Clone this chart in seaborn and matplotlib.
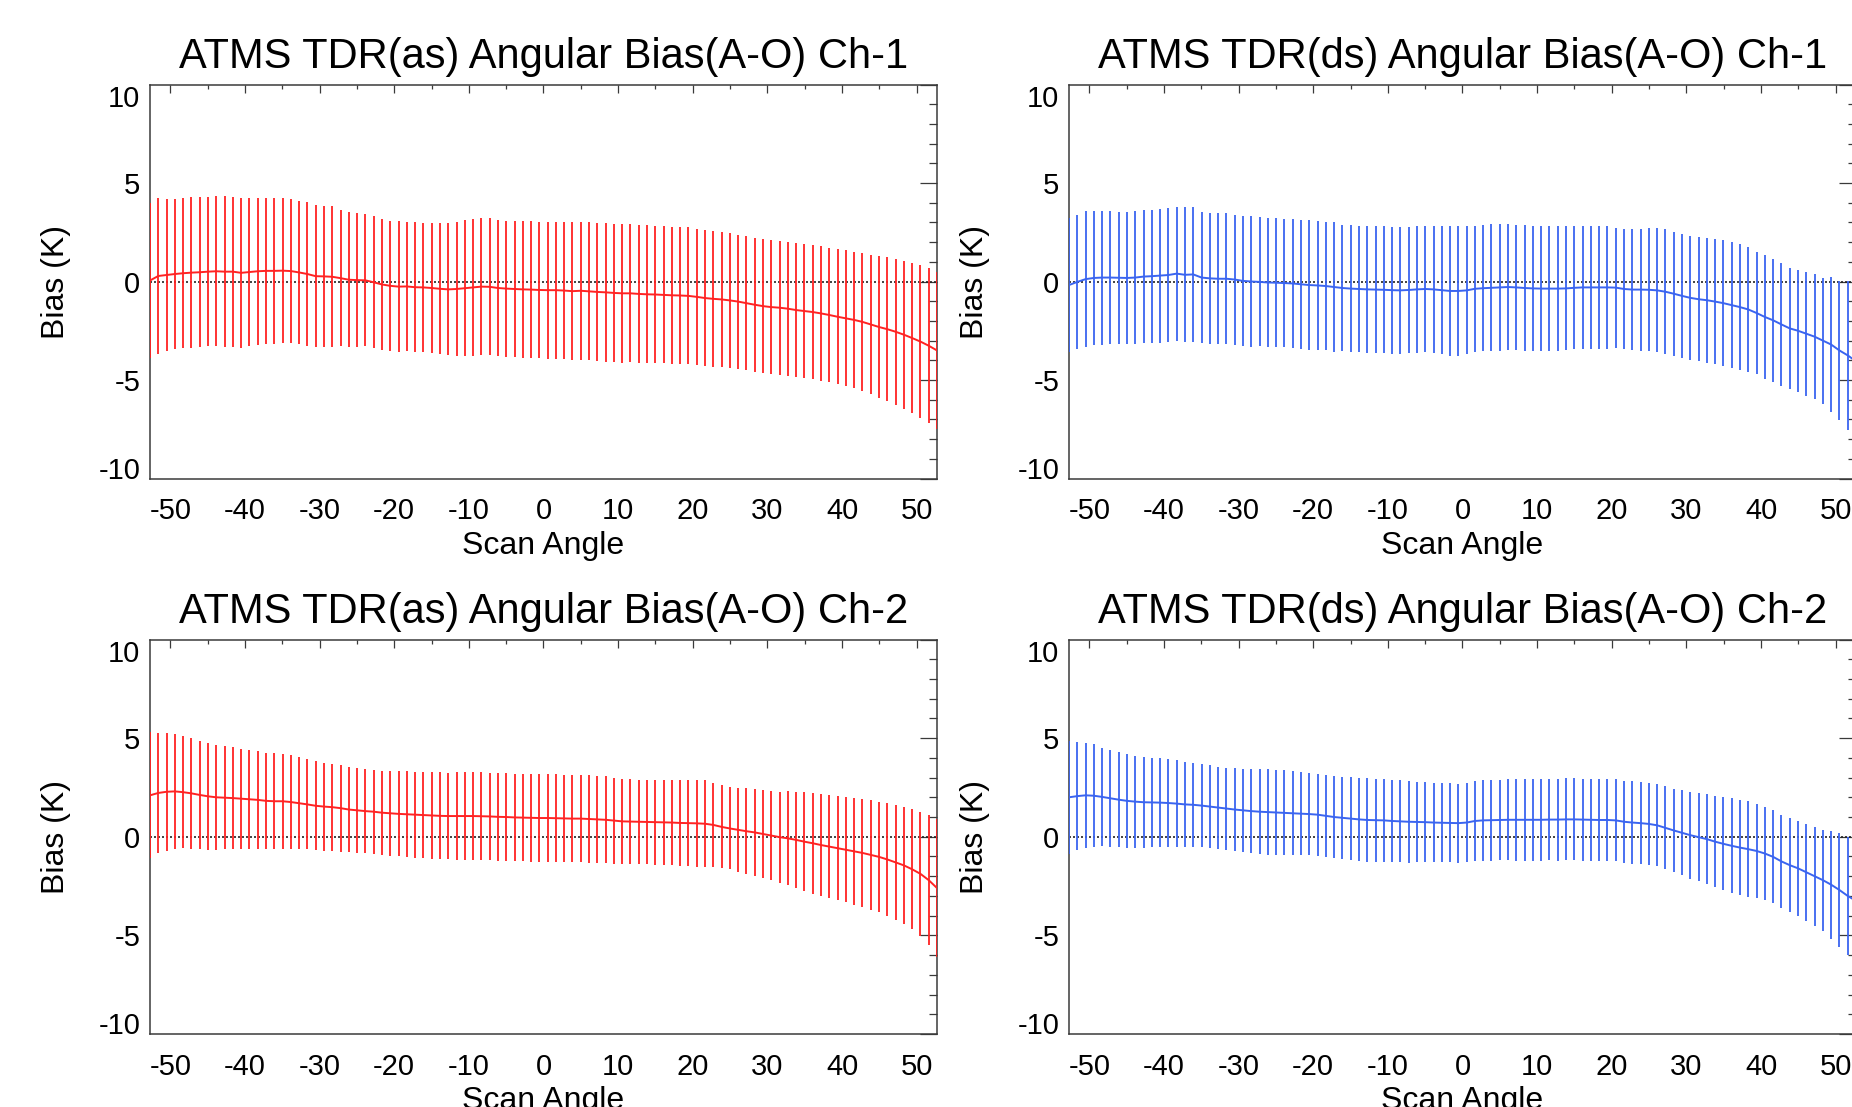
import numpy as np
import seaborn as sns
import matplotlib
matplotlib.use("Agg")
import matplotlib.pyplot as plt
from matplotlib.ticker import MultipleLocator

# ATMS beam positions (scan angle, deg)
scan_angle = [
    -52.725, -51.615, -50.505, -49.395, -48.285, -47.175, -46.065, -44.955,
    -43.845, -42.735, -41.625, -40.515, -39.405, -38.295, -37.185, -36.075,
    -34.965, -33.855, -32.745, -31.635, -30.525, -29.415, -28.305, -27.195,
    -26.085, -24.975, -23.865, -22.755, -21.645, -20.535, -19.425, -18.315,
    -17.205, -16.095, -14.985, -13.875, -12.765, -11.655, -10.545, -9.435,
    -8.325, -7.215, -6.105, -4.995, -3.885, -2.775, -1.665, -0.555,
    0.555, 1.665, 2.775, 3.885, 4.995, 6.105, 7.215, 8.325,
    9.435, 10.545, 11.655, 12.765, 13.875, 14.985, 16.095, 17.205,
    18.315, 19.425, 20.535, 21.645, 22.755, 23.865, 24.975, 26.085,
    27.195, 28.305, 29.415, 30.525, 31.635, 32.745, 33.855, 34.965,
    36.075, 37.185, 38.295, 39.405, 40.515, 41.625, 42.735, 43.845,
    44.955, 46.065, 47.175, 48.285, 49.395, 50.505, 51.615, 52.725,
]

# ascending, channel 1
as_ch1_mean = [
    0.05, 0.28, 0.33, 0.38, 0.42, 0.45, 0.47, 0.50,
    0.52, 0.50, 0.50, 0.44, 0.48, 0.52, 0.54, 0.54,
    0.55, 0.53, 0.46, 0.38, 0.27, 0.26, 0.24, 0.17,
    0.09, 0.07, 0.06, -0.04, -0.15, -0.22, -0.26, -0.25,
    -0.29, -0.30, -0.33, -0.37, -0.40, -0.38, -0.34, -0.30,
    -0.26, -0.27, -0.33, -0.36, -0.38, -0.40, -0.41, -0.43,
    -0.44, -0.44, -0.46, -0.49, -0.47, -0.50, -0.53, -0.55,
    -0.58, -0.60, -0.60, -0.63, -0.65, -0.66, -0.68, -0.70,
    -0.71, -0.73, -0.78, -0.84, -0.88, -0.91, -0.96, -1.02,
    -1.10, -1.18, -1.25, -1.30, -1.33, -1.38, -1.45, -1.50,
    -1.55, -1.62, -1.70, -1.79, -1.87, -1.95, -2.05, -2.18,
    -2.31, -2.42, -2.55, -2.70, -2.87, -3.05, -3.26, -3.50,
]
as_ch1_std = [
    3.95, 3.95, 3.86, 3.80, 3.80, 3.82, 3.80, 3.79,
    3.80, 3.83, 3.80, 3.80, 3.74, 3.73, 3.71, 3.70,
    3.67, 3.65, 3.63, 3.65, 3.62, 3.59, 3.57, 3.46,
    3.44, 3.40, 3.35, 3.36, 3.33, 3.31, 3.31, 3.27,
    3.29, 3.29, 3.30, 3.32, 3.35, 3.40, 3.45, 3.46,
    3.47, 3.48, 3.46, 3.45, 3.46, 3.47, 3.46, 3.46,
    3.47, 3.48, 3.48, 3.50, 3.50, 3.50, 3.52, 3.52,
    3.52, 3.52, 3.50, 3.50, 3.50, 3.50, 3.48, 3.48,
    3.48, 3.48, 3.45, 3.45, 3.45, 3.42, 3.42, 3.40,
    3.40, 3.40, 3.39, 3.40, 3.40, 3.40, 3.40, 3.40,
    3.40, 3.42, 3.42, 3.43, 3.45, 3.47, 3.50, 3.55,
    3.60, 3.65, 3.70, 3.75, 3.82, 3.88, 3.93, 3.97,
]

# descending, channel 1
ds_ch1_mean = [
    -0.18, -0.02, 0.12, 0.18, 0.20, 0.20, 0.19, 0.18,
    0.20, 0.25, 0.27, 0.30, 0.33, 0.40, 0.34, 0.36,
    0.20, 0.16, 0.14, 0.14, 0.10, 0.03, 0.00, -0.02,
    -0.05, -0.06, -0.08, -0.10, -0.14, -0.18, -0.20, -0.23,
    -0.28, -0.33, -0.36, -0.38, -0.40, -0.41, -0.42, -0.44,
    -0.45, -0.43, -0.40, -0.38, -0.40, -0.44, -0.48, -0.48,
    -0.45, -0.37, -0.34, -0.32, -0.30, -0.28, -0.30, -0.33,
    -0.35, -0.36, -0.36, -0.36, -0.35, -0.32, -0.30, -0.30,
    -0.30, -0.30, -0.31, -0.38, -0.41, -0.41, -0.42, -0.45,
    -0.52, -0.62, -0.73, -0.83, -0.90, -0.95, -1.02, -1.10,
    -1.20, -1.30, -1.42, -1.60, -1.80, -1.97, -2.18, -2.38,
    -2.50, -2.65, -2.80, -3.00, -3.20, -3.50, -3.75, -4.05,
]
ds_ch1_std = [
    3.40, 3.42, 3.44, 3.42, 3.40, 3.38, 3.36, 3.35,
    3.36, 3.37, 3.38, 3.40, 3.42, 3.40, 3.43, 3.42,
    3.33, 3.33, 3.33, 3.32, 3.30, 3.30, 3.30, 3.27,
    3.26, 3.26, 3.25, 3.26, 3.28, 3.28, 3.27, 3.27,
    3.29, 3.21, 3.21, 3.22, 3.22, 3.22, 3.22, 3.22,
    3.22, 3.22, 3.22, 3.20, 3.22, 3.25, 3.30, 3.30,
    3.25, 3.20, 3.20, 3.22, 3.22, 3.20, 3.18, 3.18,
    3.18, 3.18, 3.17, 3.17, 3.15, 3.13, 3.12, 3.12,
    3.13, 3.13, 3.05, 3.05, 3.08, 3.10, 3.12, 3.15,
    3.17, 3.15, 3.14, 3.15, 3.16, 3.17, 3.19, 3.20,
    3.20, 3.20, 3.15, 3.12, 3.15, 3.12, 3.12, 3.09,
    3.10, 3.15, 3.17, 3.20, 3.43, 3.55, 3.80, 3.85,
]

# ascending, channel 2
as_ch2_mean = [
    2.10, 2.22, 2.28, 2.30, 2.26, 2.20, 2.12, 2.05,
    2.00, 1.98, 1.96, 1.93, 1.90, 1.87, 1.82, 1.80,
    1.80, 1.76, 1.70, 1.64, 1.57, 1.53, 1.50, 1.45,
    1.38, 1.34, 1.30, 1.27, 1.22, 1.19, 1.16, 1.14,
    1.12, 1.10, 1.08, 1.06, 1.05, 1.05, 1.05, 1.05,
    1.04, 1.03, 1.01, 1.00, 0.98, 0.97, 0.96, 0.95,
    0.95, 0.94, 0.93, 0.92, 0.92, 0.90, 0.88, 0.86,
    0.82, 0.78, 0.77, 0.76, 0.75, 0.74, 0.73, 0.72,
    0.70, 0.69, 0.68, 0.66, 0.60, 0.50, 0.42, 0.35,
    0.28, 0.22, 0.14, 0.06, -0.02, -0.08, -0.16, -0.25,
    -0.33, -0.42, -0.50, -0.58, -0.66, -0.74, -0.82, -0.92,
    -1.02, -1.15, -1.30, -1.45, -1.65, -1.88, -2.20, -2.60,
]
as_ch2_std = [
    3.20, 3.05, 2.98, 2.92, 2.85, 2.80, 2.74, 2.70,
    2.65, 2.60, 2.57, 2.53, 2.50, 2.48, 2.45, 2.43,
    2.40, 2.36, 2.32, 2.28, 2.25, 2.23, 2.21, 2.20,
    2.17, 2.14, 2.13, 2.12, 2.13, 2.15, 2.16, 2.17,
    2.18, 2.19, 2.20, 2.20, 2.20, 2.21, 2.22, 2.22,
    2.22, 2.22, 2.22, 2.22, 2.22, 2.22, 2.22, 2.22,
    2.22, 2.22, 2.22, 2.22, 2.22, 2.22, 2.22, 2.20,
    2.18, 2.15, 2.14, 2.14, 2.15, 2.15, 2.16, 2.16,
    2.17, 2.18, 2.19, 2.20, 2.15, 2.10, 2.08, 2.12,
    2.18, 2.20, 2.24, 2.27, 2.30, 2.38, 2.45, 2.50,
    2.55, 2.58, 2.60, 2.63, 2.67, 2.70, 2.73, 2.77,
    2.80, 2.85, 2.90, 2.95, 3.05, 3.15, 3.30, 3.50,
]

# descending, channel 2
ds_ch2_mean = [
    2.00, 2.06, 2.10, 2.08, 2.02, 1.95, 1.88, 1.82,
    1.78, 1.75, 1.74, 1.73, 1.71, 1.68, 1.64, 1.62,
    1.58, 1.53, 1.48, 1.43, 1.38, 1.34, 1.30, 1.27,
    1.25, 1.23, 1.21, 1.19, 1.17, 1.15, 1.12, 1.06,
    1.00, 0.96, 0.92, 0.88, 0.85, 0.84, 0.83, 0.80,
    0.78, 0.76, 0.75, 0.74, 0.72, 0.71, 0.70, 0.69,
    0.72, 0.80, 0.83, 0.84, 0.85, 0.86, 0.86, 0.86,
    0.86, 0.86, 0.87, 0.87, 0.88, 0.88, 0.87, 0.86,
    0.85, 0.85, 0.83, 0.76, 0.72, 0.69, 0.65, 0.58,
    0.45, 0.32, 0.20, 0.08, -0.02, -0.12, -0.25, -0.36,
    -0.46, -0.55, -0.63, -0.72, -0.85, -1.02, -1.25, -1.44,
    -1.60, -1.80, -2.00, -2.20, -2.43, -2.70, -3.00, -3.25,
]
ds_ch2_std = [
    2.85, 2.75, 2.65, 2.60, 2.50, 2.45, 2.41, 2.37,
    2.33, 2.30, 2.26, 2.24, 2.21, 2.19, 2.16, 2.13,
    2.11, 2.10, 2.08, 2.08, 2.10, 2.12, 2.14, 2.16,
    2.17, 2.16, 2.15, 2.14, 2.12, 2.09, 2.08, 2.07,
    2.06, 2.08, 2.10, 2.12, 2.11, 2.10, 2.09, 2.08,
    2.08, 2.07, 2.05, 2.03, 2.02, 2.00, 2.00, 2.00,
    2.00, 2.03, 2.04, 2.05, 2.05, 2.06, 2.07, 2.07,
    2.07, 2.07, 2.07, 2.08, 2.08, 2.08, 2.08, 2.08,
    2.08, 2.08, 2.08, 2.09, 2.09, 2.09, 2.08, 2.08,
    2.10, 2.12, 2.15, 2.20, 2.23, 2.27, 2.32, 2.36,
    2.40, 2.42, 2.43, 2.40, 2.38, 2.36, 2.36, 2.38,
    2.42, 2.46, 2.50, 2.56, 2.73, 2.88, 3.00, 3.10,
]

titles = [
    "ATMS TDR(as) Angular Bias(A-O) Ch-1",
    "ATMS TDR(ds) Angular Bias(A-O) Ch-1",
    "ATMS TDR(as) Angular Bias(A-O) Ch-2",
    "ATMS TDR(ds) Angular Bias(A-O) Ch-2",
]
panel_means = [as_ch1_mean, ds_ch1_mean, as_ch2_mean, ds_ch2_mean]
panel_stds = [as_ch1_std, ds_ch1_std, as_ch2_std, ds_ch2_std]

RED = "#ff2222"
BLUE = "#3a64f0"
panel_colors = [RED, BLUE, RED, BLUE]

# axes rectangles in figure fractions (right column runs slightly off the canvas)
panel_rects = [
    [0.08099, 0.56775, 0.42495, 0.35591],
    [0.57721, 0.56775, 0.42495, 0.35591],
    [0.08099, 0.06594, 0.42495, 0.35637],
    [0.57721, 0.06594, 0.42495, 0.35637],
]

sns.set_style("white")
plt.rcParams["font.family"] = ["Liberation Sans", "DejaVu Sans"]
plt.rcParams["axes.unicode_minus"] = False
plt.rcParams["text.color"] = "black"
plt.rcParams["axes.labelcolor"] = "black"
plt.rcParams["xtick.labelcolor"] = "black"
plt.rcParams["ytick.labelcolor"] = "black"

fig = plt.figure(figsize=(18.52, 11.07), dpi=100)
fig.patch.set_facecolor("white")

axis_color = "#3a3a3a"
x = np.array(scan_angle)
axes = []

for rect, title, mean, std, color in zip(panel_rects, titles, panel_means,
                                         panel_stds, panel_colors):
    ax = fig.add_axes(rect)
    axes.append(ax)
    mean = np.array(mean)
    std = np.array(std)

    # zero reference
    ax.axhline(0, color="#222222", lw=1.2, ls=(0, (1.2, 1.2)), zorder=1)

    # +/- one standard deviation bars
    ax.vlines(x, mean - std, mean + std, colors=color, lw=1.3, zorder=3)

    # mean bias
    sns.lineplot(x=x, y=mean, ax=ax, color=color, lw=1.4, zorder=4,
                 estimator=None, sort=False)

    ax.set_xlim(-52.725, 52.725)
    ax.set_ylim(-10, 10)
    ax.xaxis.set_major_locator(MultipleLocator(10))
    ax.xaxis.set_minor_locator(MultipleLocator(5))
    ax.yaxis.set_major_locator(MultipleLocator(5))
    ax.yaxis.set_minor_locator(MultipleLocator(1))

    for s in ax.spines.values():
        s.set_visible(True)
        s.set_color(axis_color)
        s.set_linewidth(1.1)

    ax.tick_params(which="both", direction="in", top=True, right=True,
                   color=axis_color, width=0.9)
    ax.tick_params(axis="x", which="major", length=5.8, pad=13.5,
                   labelsize=21)
    ax.tick_params(axis="x", which="minor", length=3.2)
    ax.tick_params(axis="y", which="major", length=12, pad=7, labelsize=21)
    ax.tick_params(axis="y", which="minor", length=5.8)

    ax.set_title(title, fontsize=30, pad=12)
    ax.set_xlabel("Scan Angle", fontsize=23)
    ax.set_ylabel("Bias (K)", fontsize=23)
    ax.xaxis.set_label_coords(0.5, -0.132)
    ax.yaxis.set_label_coords(-0.10, 0.5)

# end labels of the y axis sit inside the frame, as in the original plot
fig.canvas.draw()
for ax in axes:
    for tick in ax.yaxis.get_major_ticks():
        loc = tick.get_loc()
        if loc is None:
            continue
        if abs(loc - 10) < 1e-6:
            tick.label1.set_verticalalignment("top")
        elif abs(loc + 10) < 1e-6:
            tick.label1.set_verticalalignment("baseline")

fig.savefig("out.png", dpi=100, facecolor="white")
